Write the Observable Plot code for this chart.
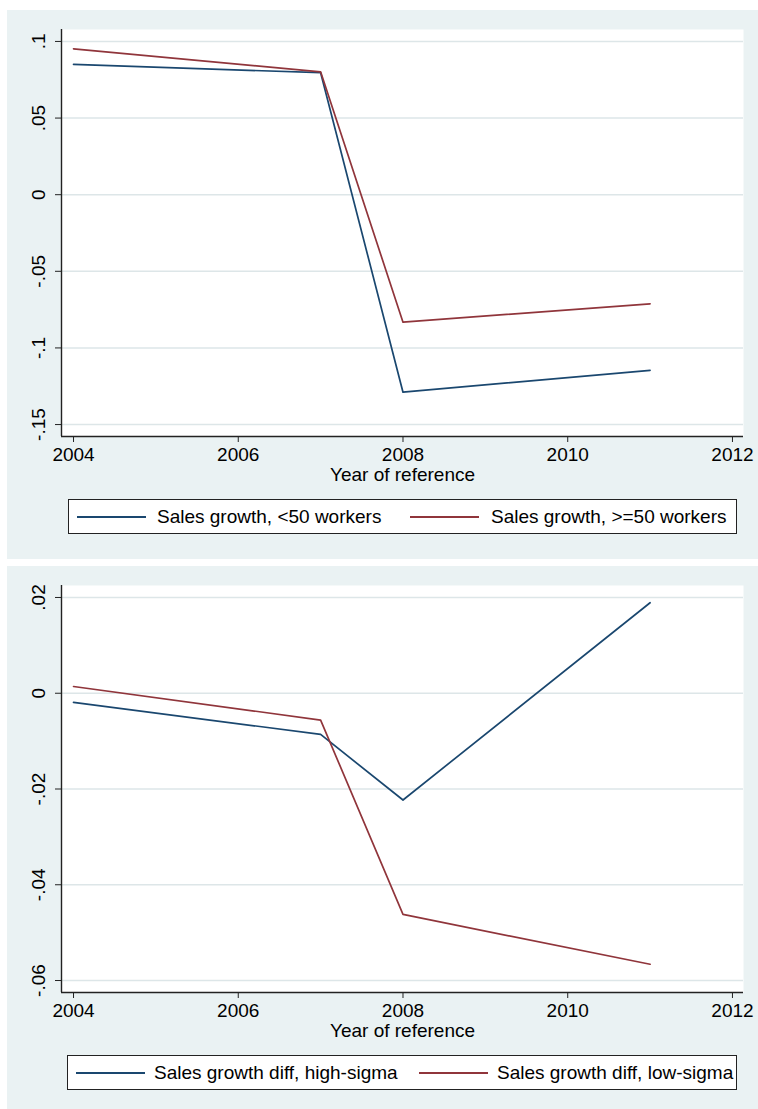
<!DOCTYPE html>
<html><head><meta charset="utf-8">
<script src="https://cdn.jsdelivr.net/npm/d3@7"></script>
<script src="https://cdn.jsdelivr.net/npm/@observablehq/plot@0.6"></script>
<style>
body{margin:0;background:#fff;width:758px;height:1109px;overflow:hidden;font-family:"Liberation Sans",Arial,sans-serif;position:relative;}
.panel{position:absolute;left:7px;width:751px;height:549px;background:#eaf2f3;overflow:hidden;}
.panel svg{position:absolute;left:0;top:0;}
.legend{position:absolute;top:489px;height:33px;border:1px solid #222;background:#fff;box-sizing:content-box;}
.item{position:absolute;top:0;height:33px;line-height:33px;font-size:19px;color:#000;white-space:nowrap;}
.swatch{position:absolute;top:16px;height:2px;}
</style>
</head><body>
<div class="panel" id="p1" style="top:10px"></div>
<div class="panel" id="p2" style="top:566px"></div>
<script>
// ---- data ----
const years = [2004, 2007, 2008, 2011];
const salesSmall = [0.0850, 0.0796, -0.1289, -0.1146];   // <50 workers
const salesLarge = [0.0952, 0.0802, -0.0832, -0.0712];   // >=50 workers
const diffHigh = [-0.0019, -0.0086, -0.0223, 0.0189];    // high-sigma
const diffLow = [0.0014, -0.0056, -0.0462, -0.0566];     // low-sigma
const xTicks = [2004, 2006, 2008, 2010, 2012];
const yTicks1 = [0.1, 0.05, 0, -0.05, -0.1, -0.15];
const yLabels1 = [".1", ".05", "0", "-.05", "-.1", "-.15"];
const yTicks2 = [0.02, 0, -0.02, -0.04, -0.06];
const yLabels2 = [".02", "0", "-.02", "-.04", "-.06"];
const names1 = ["Sales growth, <50 workers", "Sales growth, >=50 workers"];
const names2 = ["Sales growth diff, high-sigma", "Sales growth diff, low-sigma"];
const xTitle = "Year of reference";
const colors = ["#1a476f", "#90353b"];

const xDomain = [2003.854, 2012.134];

function makePanel(target, yDomain, yTicks, yLabels, seriesA, seriesB, names, legendLayout) {
  const data = [];
  years.forEach((yr, i) => data.push({year: yr, value: seriesA[i], s: names[0]}));
  years.forEach((yr, i) => data.push({year: yr, value: seriesB[i], s: names[1]}));
  const labelMap = new Map(yTicks.map((t, i) => [t, yLabels[i]]));
  const chart = Plot.plot({
    width: 751, height: 486,
    marginLeft: 54, marginRight: 15, marginTop: 19, marginBottom: 60,
    style: {background: "transparent", fontFamily: "'Liberation Sans', Arial, sans-serif", fontSize: "19px", color: "#000"},
    x: {domain: xDomain, label: null},
    y: {domain: yDomain, label: null},
    color: {domain: names, range: colors},
    marks: [
      Plot.frame({fill: "white", stroke: "none"}),
      Plot.gridY(yTicks, {stroke: "#dde6e8", strokeOpacity: 1, strokeWidth: 1.5}),
      Plot.axisY(yTicks, {tickSize: 6, tickRotate: -90, tickPadding: 11, tickFormat: d => labelMap.get(d), label: null, stroke: "#222", fill: "#000", fontSize: 19}),
      Plot.axisX(xTicks, {tickSize: 6, tickPadding: 5, tickFormat: d => String(d), label: null, stroke: "#222", fill: "#000", fontSize: 19}),
      Plot.ruleX([xDomain[0]], {stroke: "#222", strokeWidth: 1.4}),
      Plot.ruleY([yDomain[0]], {stroke: "#222", strokeWidth: 1.4}),
      Plot.line(data, {x: "year", y: "value", z: "s", stroke: "s", strokeWidth: 1.7}),
      Plot.text([xTitle], {text: d => d, frameAnchor: "bottom", dy: 44, lineAnchor: "bottom", fill: "#000", fontSize: 19})
    ]
  });
  const el = document.getElementById(target);
  el.appendChild(chart);
  const lg = document.createElement("div");
  lg.className = "legend";
  lg.style.left = legendLayout.left + "px";
  lg.style.width = legendLayout.width + "px";
  names.forEach((n, i) => {
    const sw = document.createElement("div");
    sw.className = "swatch";
    sw.style.left = legendLayout.sw[i] + "px";
    sw.style.width = "69px";
    sw.style.background = colors[i];
    lg.appendChild(sw);
    const t = document.createElement("div");
    t.className = "item";
    t.style.left = legendLayout.tx[i] + "px";
    t.textContent = n;
    lg.appendChild(t);
  });
  el.appendChild(lg);
}

makePanel("p1", [-0.1578, 0.1078], yTicks1, yLabels1, salesSmall, salesLarge, names1,
  {left: 61, width: 667, sw: [8, 341], tx: [88, 422]});
makePanel("p2", [-0.0625, 0.0225], yTicks2, yLabels2, diffHigh, diffLow, names2,
  {left: 60, width: 668, sw: [8, 351], tx: [86, 429]});
</script>
</body></html>
